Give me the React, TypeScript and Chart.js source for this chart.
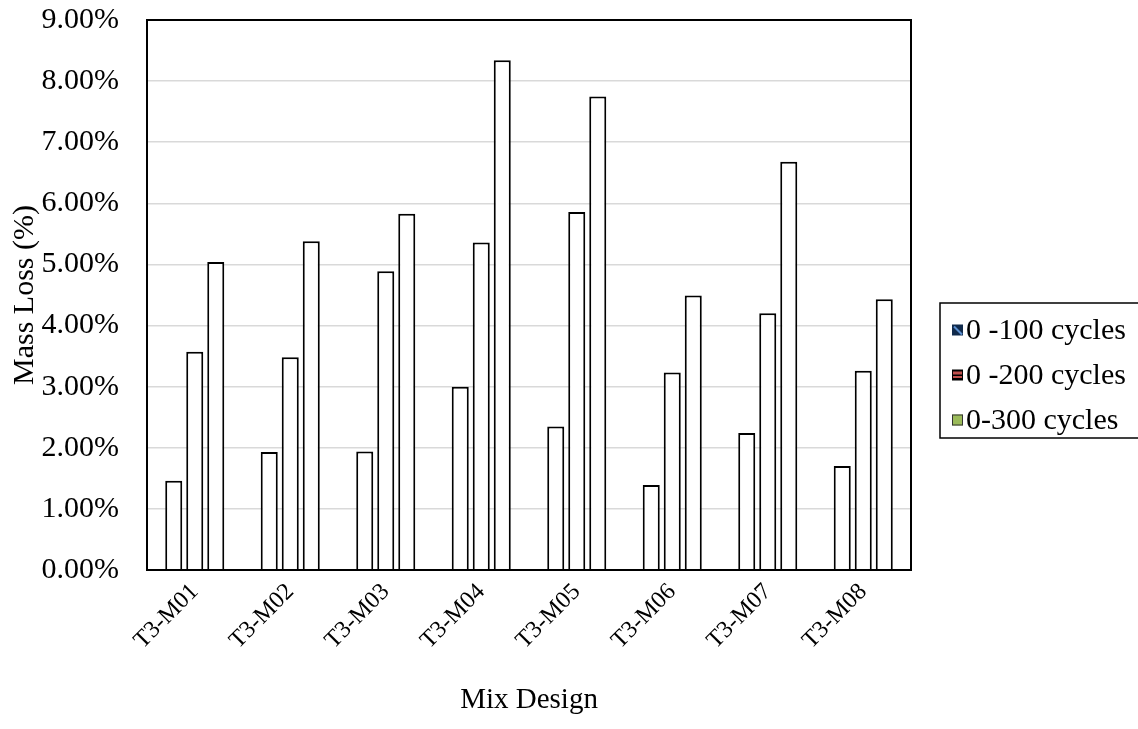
import React, { useEffect, useRef } from "react";
import { Chart, registerables } from "chart.js";

Chart.register(...registerables);

const categories = ["T3-M01", "T3-M02", "T3-M03", "T3-M04", "T3-M05", "T3-M06", "T3-M07", "T3-M08"];
const seriesLabels = ["0 -100 cycles", "0 -200 cycles", "0-300 cycles"];
const cycles100 = [1.46, 1.93, 1.94, 3.0, 2.35, 1.39, 2.24, 1.7];
const cycles200 = [3.57, 3.48, 4.89, 5.36, 5.86, 3.23, 4.2, 3.26];
const cycles300 = [5.04, 5.38, 5.83, 8.34, 7.75, 4.49, 6.68, 4.43];
const yTicks = [0, 1, 2, 3, 4, 5, 6, 7, 8, 9];

const FONT = "'Liberation Serif', 'Times New Roman', serif";
const FS_Y = 30;
const FS_LEG = 30;
const FS_TITLE = 29;
const FS_X = 24;

const legendPlugin = {
  id: "excelLegend",
  afterDraw(chart: any) {
    const ctx = chart.ctx;
    const area = chart.chartArea;
    const bx = area.right + 29;
    const by = 303;
    const bw = 210;
    const bh = 135;
    ctx.save();
    ctx.strokeStyle = "#000";
    ctx.lineWidth = 1.5;
    ctx.strokeRect(bx, by, bw, bh);
    ctx.font = `${FS_LEG}px ${FONT}`;
    ctx.textBaseline = "middle";
    ctx.fillStyle = "#000";
    const rows = [by + 27, by + 72, by + 117];
    chart.data.datasets.forEach((ds: any, i: number) => {
      const sx = bx + 12;
      const sy = rows[i] - 5.5;
      const s = 11;
      if (i === 0) {
        ctx.fillStyle = "#102a4c";
        ctx.fillRect(sx, sy, s, s);
        ctx.strokeStyle = "#5b8fd0";
        ctx.lineWidth = 2;
        ctx.beginPath();
        ctx.moveTo(sx + 2, sy + 2);
        ctx.lineTo(sx + s - 1, sy + s - 1);
        ctx.stroke();
      } else if (i === 1) {
        ctx.fillStyle = "#000";
        ctx.fillRect(sx, sy, s, s);
        ctx.fillStyle = "#c0504d";
        ctx.fillRect(sx + 1, sy + 2, s - 2, 3);
        ctx.fillRect(sx + 1, sy + 6.5, s - 2, 2);
      } else {
        ctx.fillStyle = "#9bbb59";
        ctx.fillRect(sx, sy, s, s);
        ctx.strokeStyle = "#333";
        ctx.lineWidth = 1;
        ctx.strokeRect(sx + 0.5, sy + 0.5, s - 1, s - 1);
      }
      ctx.fillStyle = "#000";
      ctx.fillText(ds.label, sx + s + 3, rows[i] + 1);
    });
    ctx.restore();
  },
};

const framePlugin = {
  id: "frame",
  afterDatasetsDraw(chart: any) {
    const { ctx, chartArea: a } = chart;
    ctx.save();
    ctx.strokeStyle = "#000";
    ctx.lineWidth = 2;
    ctx.strokeRect(a.left, a.top, a.right - a.left, a.bottom - a.top);
    ctx.restore();
  },
};

export default function App() {
  const ref = useRef<HTMLCanvasElement | null>(null);
  useEffect(() => {
    document.body.style.margin = "0";
    if (!ref.current) return;
    const mk = (label: string, data: number[]) => ({
      label,
      data,
      backgroundColor: "#ffffff",
      borderColor: "#000000",
      borderWidth: 2,
      categoryPercentage: 0.66,
      barPercentage: 0.81,
    });
    const chart = new Chart(ref.current, {
      type: "bar",
      data: {
        labels: categories,
        datasets: [
          mk(seriesLabels[0], cycles100),
          mk(seriesLabels[1], cycles200),
          mk(seriesLabels[2], cycles300),
        ],
      },
      plugins: [framePlugin, legendPlugin],
      options: {
        responsive: false,
        animation: false,
        layout: { padding: { top: 20, right: 227, bottom: 0, left: 0 } },
        plugins: {
          legend: { display: false },
          tooltip: { enabled: false },
        },
        scales: {
          x: {
            grid: { display: false, drawTicks: false },
            border: { display: false },
            ticks: {
              color: "#000",
              font: { family: FONT, size: FS_X },
              minRotation: 45,
              maxRotation: 45,
              padding: 8,
            },
            title: {
              display: true,
              text: "Mix Design",
              color: "#000",
              font: { family: FONT, size: FS_TITLE },
              padding: { top: 0, bottom: 11 },
            },
            afterFit(scale: any) {
              scale.height = 159;
              scale.paddingLeft = 0;
              scale.paddingRight = 0;
            },
          },
          y: {
            min: 0,
            max: 9,
            afterBuildTicks(scale: any) {
              scale.ticks = yTicks.map((v) => ({ value: v }));
            },
            grid: { color: "#d9d9d9", lineWidth: 1.5, drawTicks: false },
            border: { display: false },
            ticks: {
              color: "#000",
              font: { family: FONT, size: FS_Y },
              padding: 28,
              callback: (v: any) => Number(v).toFixed(2) + "%",
            },
            title: {
              display: true,
              text: "Mass Loss (%)",
              color: "#000",
              font: { family: FONT, size: FS_Y },
              padding: { top: 7, bottom: 0 },
            },
            afterFit(scale: any) {
              scale.width = 147;
              scale.paddingTop = 0;
              scale.paddingBottom = 0;
            },
          },
        },
      },
    });
    return () => chart.destroy();
  }, []);
  return (
    <div style={{ width: 1138, height: 729 }}>
      <canvas ref={ref} width={1138} height={729} />
    </div>
  );
}
